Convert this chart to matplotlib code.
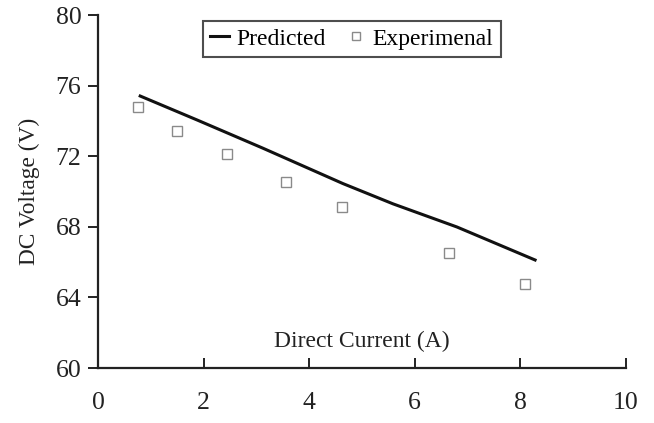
"""DC voltage vs direct current: predicted curve and measured points."""

import matplotlib.pyplot as plt
import numpy as np

# predicted characteristic
pred_current = [0.8, 1.88, 3.12, 4.64, 5.59, 6.8, 8.28]
pred_voltage = [75.41, 74.05, 72.46, 70.45, 69.3, 67.99, 66.12]

# measured points
exp_current = [0.76, 1.50, 2.44, 3.56, 4.62, 6.65, 8.09]
exp_voltage = [74.8, 73.45, 72.15, 70.55, 69.1, 66.5, 64.75]

xticks = [0, 2, 4, 6, 8, 10]
yticks = [60, 64, 68, 72, 76, 80]

plt.rcParams['font.family'] = ['Liberation Serif', 'DejaVu Serif']

fig = plt.figure(figsize=(6.54, 4.23), dpi=100)
ax = fig.add_axes([0.1498, 0.130, 0.8072, 0.8345])

ax.plot(pred_current, pred_voltage, '-', color='#111111', lw=2.2, label='Predicted')
ax.plot(exp_current, exp_voltage, 's', mfc='none', mec='#8a8a8a', mew=1.0, ms=7,
        ls='none', label='Experimenal')

ax.set_xlim(0, 10)
ax.set_ylim(60, 80)
ax.set_xticks(xticks)
ax.set_yticks(yticks)

for side in ('top', 'right'):
    ax.spines[side].set_visible(False)
for side in ('left', 'bottom'):
    ax.spines[side].set_linewidth(1.6)
    ax.spines[side].set_color('#222222')

ax.tick_params(axis='y', direction='out', length=7, width=1.4, labelsize=18.5, pad=5,
               colors='#222222')
ax.tick_params(axis='x', direction='in', length=7, width=1.4, labelsize=18.5, pad=17,
               colors='#222222')

ax.text(0.5, 0.045, 'Direct Current (A)', transform=ax.transAxes, ha='center',
        va='bottom', fontsize=17, color='#222222')
ax.set_ylabel('DC Voltage (V)', fontsize=16.8, color='#222222', labelpad=11)

leg = ax.legend(loc='upper left', bbox_to_anchor=(0.199, 0.983), borderaxespad=0,
                ncol=2, fontsize=17, frameon=True, fancybox=False,
                handlelength=0.8, handletextpad=0.3, columnspacing=0.9,
                borderpad=0.3, markerscale=0.8)
leg.get_frame().set_edgecolor('#222222')
leg.get_frame().set_linewidth(1.5)

fig.savefig('out.png', dpi=100)
